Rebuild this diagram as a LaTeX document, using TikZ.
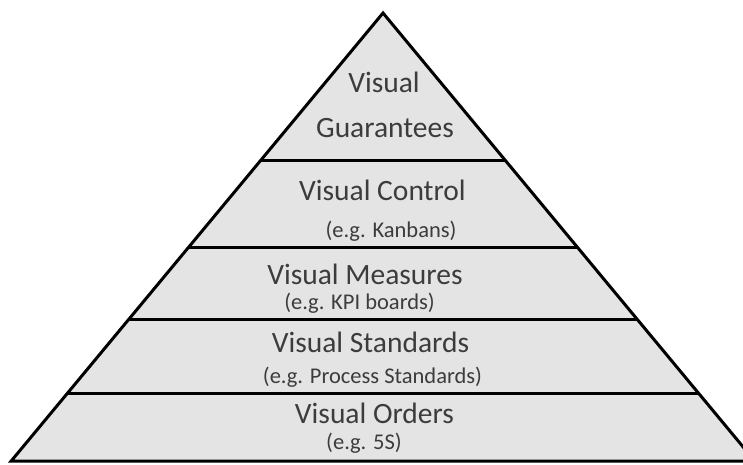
\documentclass[tikz,border=0pt]{standalone}
\usepackage{fontspec}
\setmainfont{Carlito}
\definecolor{tierfill}{HTML}{E4E4E4}
\definecolor{tiertext}{HTML}{3C3C3C}
\tikzset{
  tier/.style={fill=tierfill, draw=black, line width=3pt},
  divider/.style={draw=black, line width=3pt},
  ttl/.style={text=tiertext, font=\fontsize{29.5}{32}\selectfont, inner sep=0pt, anchor=base},
  sub/.style={text=tiertext, font=\fontsize{22.5}{25}\selectfont, inner sep=0pt, anchor=base}
}
\begin{document}
\begin{tikzpicture}[x=1pt,y=-1pt]
\useasboundingbox (0,0) rectangle (743,464);
\coordinate (apex) at (383,13);
\coordinate (bl) at (11.2,461);
\coordinate (br) at (754.8,461);
\path[tier] (apex) -- (br) -- (bl) -- cycle;
\coordinate (l1) at (261,160);   \coordinate (r1) at (505,160);
\coordinate (l2) at (188.8,247); \coordinate (r2) at (577.2,247);
\coordinate (l3) at (129,319);   \coordinate (r3) at (637,319);
\coordinate (l4) at (67.6,393);  \coordinate (r4) at (698.4,393);
\draw[divider] (l1) -- (r1);
\draw[divider] (l2) -- (r2);
\draw[divider] (l3) -- (r3);
\draw[divider] (l4) -- (r4);
\node[ttl] (g1) at (384,92) {Visual};
\node[ttl] (g2) at (385,137) {Guarantees};
\node[ttl] (c1) at (382.5,200) {Visual Control};
\node[sub] (c2) at (391,237) {(e.g. Kanbans)};
\node[ttl] (m1) at (365,284) {Visual Measures};
\node[sub] (m2) at (359.5,309) {(e.g. KPI boards)};
\node[ttl] (s1) at (370.5,352) {Visual Standards};
\node[sub] (s2) at (372.5,383) {(e.g. Process Standards)};
\node[ttl] (o1) at (374.5,423) {Visual Orders};
\node[sub] (o2) at (364,449) {(e.g. 5S)};
\end{tikzpicture}
\end{document}
